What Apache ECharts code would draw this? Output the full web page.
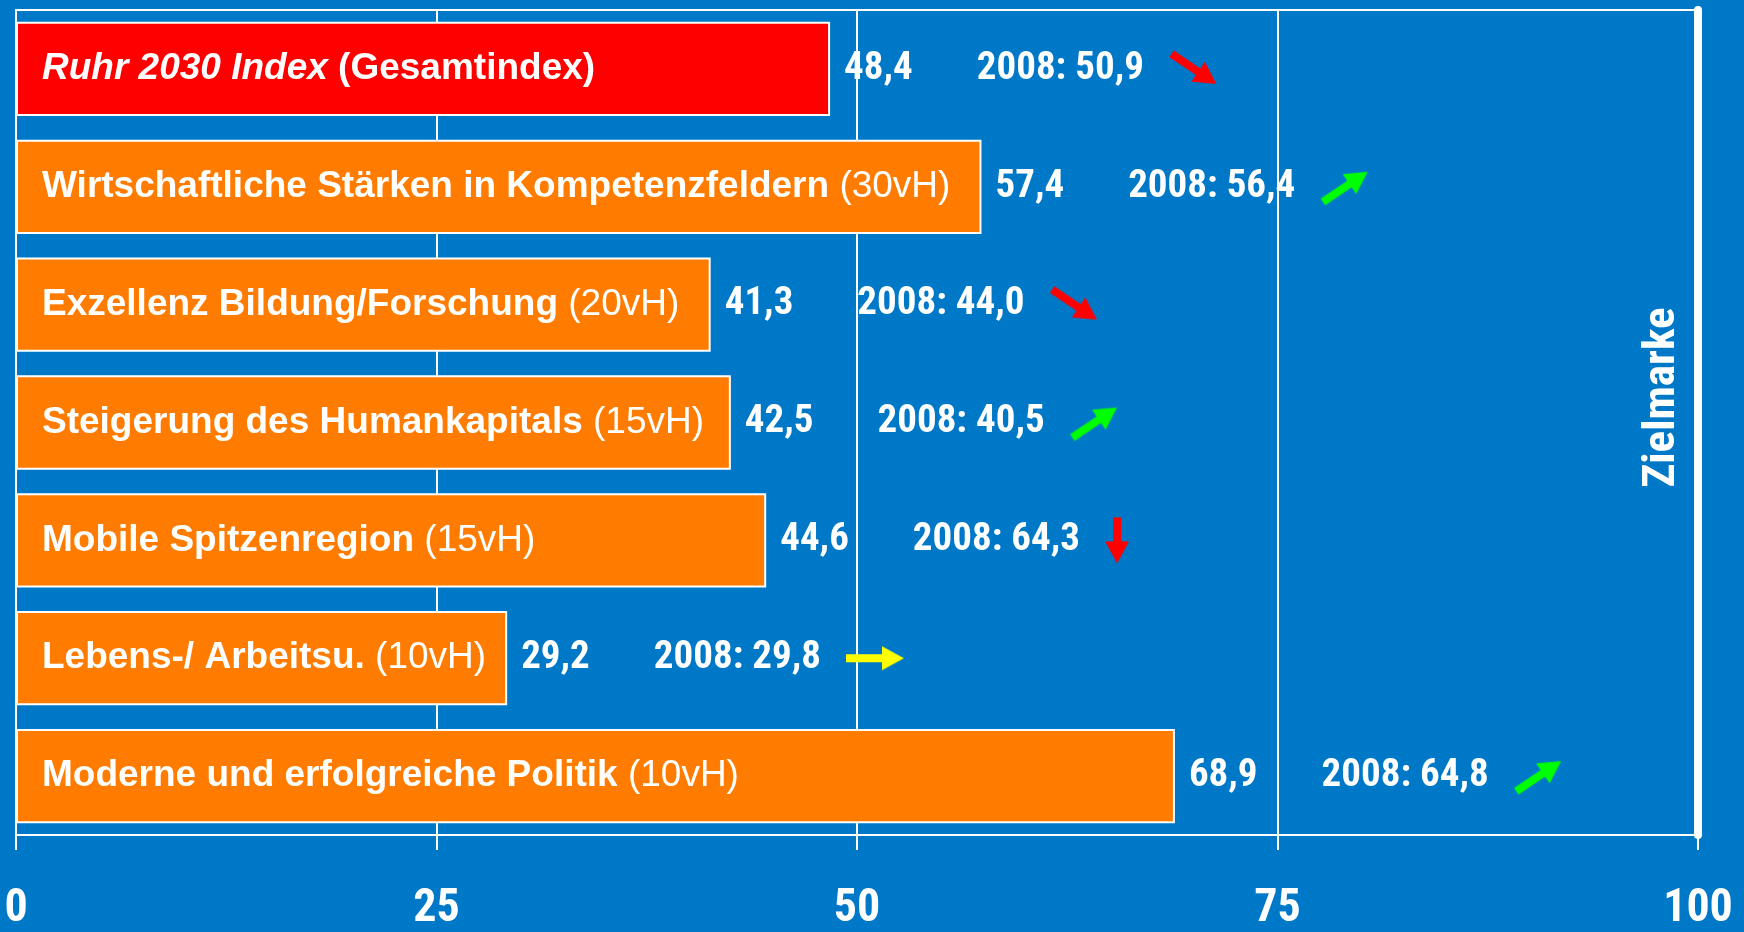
<!DOCTYPE html>
<html>
<head>
<meta charset="utf-8">
<script src="https://cdn.jsdelivr.net/npm/echarts@6/dist/echarts.min.js"></script>
<style>
    html, body { margin: 0; padding: 0; background: #0078C8; }
    #main { width: 1744px; height: 932px; }
</style>
</head>
<body>
<div id="main"></div>
<script>
    // Werte aus der Grafik
    var categories = [
        'Ruhr 2030 Index',
        'Wirtschaftliche Stärken in Kompetenzfeldern',
        'Exzellenz Bildung/Forschung',
        'Steigerung des Humankapitals',
        'Mobile Spitzenregion',
        'Lebens-/ Arbeitsu.',
        'Moderne und erfolgreiche Politik'
    ];
    var weights = ['Gesamtindex', '30vH', '20vH', '15vH', '15vH', '10vH', '10vH'];
    var current = [48.4, 57.4, 41.3, 42.5, 44.6, 29.2, 68.9];
    var values2008 = [50.9, 56.4, 44.0, 40.5, 64.3, 29.8, 64.8];
    var trends = ['down', 'up', 'down', 'up', 'drop', 'flat', 'up'];

    var narrow = "'Roboto Condensed', 'Open Sans Condensed', sans-serif";
    var arial = "'Liberation Sans', Arial, sans-serif";

    function comma(v) {
        return v.toFixed(1).replace('.', ',');
    }

    // Pfeil auf ein kleines Canvas zeichnen (wird als Bild im Rich-Text benutzt)
    function arrow(color, angle, len, w, h) {
        var c = document.createElement('canvas');
        c.width = w;
        c.height = h;
        var ctx = c.getContext('2d');
        ctx.translate(w / 2, h / 2);
        ctx.rotate(angle * Math.PI / 180);
        var hl = 22, hw = 12, sw = 4;
        ctx.beginPath();
        ctx.moveTo(-len / 2, -sw);
        ctx.lineTo(len / 2 - hl, -sw);
        ctx.lineTo(len / 2 - hl, -hw);
        ctx.lineTo(len / 2, 0);
        ctx.lineTo(len / 2 - hl, hw);
        ctx.lineTo(len / 2 - hl, sw);
        ctx.lineTo(-len / 2, sw);
        ctx.closePath();
        ctx.fillStyle = color;
        ctx.fill();
        return c;
    }

    var arrows = {
        down: { image: arrow('#FF0000', 34, 54, 52, 38), w: 52, h: 38 },
        up: { image: arrow('#00FF00', -34, 54, 52, 38), w: 52, h: 38 },
        drop: { image: arrow('#FF0000', 90, 46, 26, 48), w: 26, h: 48 },
        flat: { image: arrow('#FFFF00', 0, 58, 60, 26), w: 60, h: 26 }
    };

    var valueRich = {
        v: { color: '#fff', fontFamily: narrow, fontWeight: 'bold', fontSize: 39, lineHeight: 50, verticalAlign: 'middle' },
        g: { width: 64, lineHeight: 50 },
        s: { width: 24, lineHeight: 50 }
    };
    Object.keys(arrows).forEach(function (k) {
        valueRich['a_' + k] = {
            width: arrows[k].w,
            height: arrows[k].h,
            verticalAlign: 'middle',
            backgroundColor: { image: arrows[k].image }
        };
    });

    var myChart = echarts.init(document.getElementById('main'));

    var option = {
        backgroundColor: '#0078C8',
        animation: false,
        grid: {
            left: 16,
            right: 46,
            top: 10,
            bottom: 91,
            show: true,
            borderColor: '#fff',
            borderWidth: 2,
            backgroundColor: 'transparent'
        },
        xAxis: {
            type: 'value',
            min: 0,
            max: 100,
            interval: 25,
            axisLine: { show: true, lineStyle: { color: '#fff', width: 2 } },
            axisTick: { show: true, length: 15, lineStyle: { color: '#fff', width: 2 } },
            splitLine: { show: true, lineStyle: { color: '#fff', width: 2 } },
            axisLabel: {
                color: '#fff',
                fontFamily: narrow,
                fontWeight: 'bold',
                fontSize: 46,
                margin: 51
            }
        },
        yAxis: [
            {
                type: 'category',
                inverse: true,
                data: categories,
                z: 5,
                axisLine: { show: false },
                axisTick: { show: false },
                splitLine: { show: false },
                axisLabel: {
                    inside: true,
                    margin: 26,
                    formatter: function (v, i) {
                        if (i === 0) {
                            return '{it|' + v + '}{b| (' + weights[i] + ')}';
                        }
                        return '{b|' + v + '}{r| (' + weights[i] + ')}';
                    },
                    rich: {
                        it: { color: '#fff', fontFamily: arial, fontSize: 37, fontWeight: 'bold', fontStyle: 'italic' },
                        b: { color: '#fff', fontFamily: arial, fontSize: 37, fontWeight: 'bold' },
                        r: { color: '#fff', fontFamily: arial, fontSize: 37, fontWeight: 'normal' }
                    }
                }
            },
            {
                // Zielmarke
                type: 'category',
                position: 'right',
                inverse: true,
                data: categories,
                axisLine: { show: true, lineStyle: { color: '#fff', width: 8 } },
                axisTick: { show: false },
                axisLabel: { show: false },
                splitLine: { show: false },
                name: 'Zielmarke',
                nameLocation: 'middle',
                nameRotate: 90,
                nameGap: -58,
                nameTextStyle: {
                    color: '#fff',
                    fontFamily: narrow,
                    fontWeight: 'bold',
                    fontSize: 45,
                    padding: [0, 0, 0, 50]
                }
            }
        ],
        series: [
            {
                type: 'bar',
                data: current,
                barCategoryGap: '20%',
                itemStyle: {
                    color: function (p) {
                        return p.dataIndex === 0 ? '#FF0000' : '#FF7C00';
                    },
                    borderColor: '#fff',
                    borderWidth: 2
                },
                label: {
                    show: true,
                    position: 'right',
                    distance: 14,
                    formatter: function (p) {
                        var i = p.dataIndex;
                        return '{v|' + comma(current[i]) + '}{g|}{v|2008: ' + comma(values2008[i]) + '}{s|}{a_' + trends[i] + '|}';
                    },
                    rich: valueRich
                }
            }
        ]
    };

    myChart.setOption(option);
</script>
</body>
</html>
